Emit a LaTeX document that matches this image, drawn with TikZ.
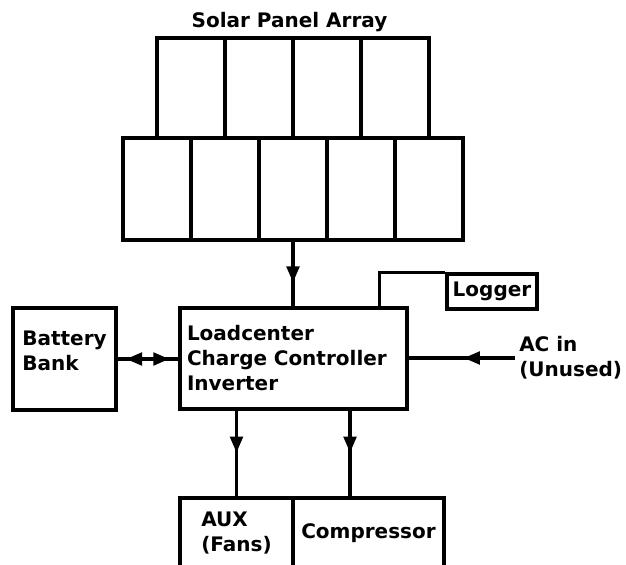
\documentclass[tikz,border=0pt]{standalone}
\usepackage{fontspec}
\setmainfont{DejaVu Sans}
\usetikzlibrary{arrows.meta,decorations.markings}
\begin{document}
\begin{tikzpicture}[
      x=0.75pt, y=-0.75pt,
      font=\fontsize{15}{18.75}\selectfont\bfseries,
      line width=2.4pt,
      box/.style={draw, inner sep=0pt},
      panel/.style={draw, inner sep=0pt, minimum width=51pt, minimum height=#1},
      mid/.style={postaction={decorate}, decoration={markings,
        mark=at position #1 with {\arrow{Triangle[length=12pt, width=9.5pt]}}}},
      duo/.style={postaction={decorate}, decoration={markings,
        mark=at position 0.14 with {\arrowreversed{Triangle[length=12pt, width=9.5pt]}},
        mark=at position 0.85 with {\arrow{Triangle[length=12pt, width=9.5pt]}}}}
    ]
      \useasboundingbox (0,0) rectangle (626,565);
      \node[anchor=base] (title) at (289.5,27) {Solar Panel Array};
      \foreach \i/\x in {1/191,2/259,3/327,4/395}
        \node[panel=75pt] (t\i) at (\x,88) {};
      \foreach \i/\x in {1/157,2/225,3/293,4/361,5/429}
        \node[panel=76.5pt] (b\i) at (\x,189) {};

      \node[box, minimum width=170.25pt, minimum height=75.75pt, text width=159.75pt, inner xsep=5.25pt, align=left] (lc) at (293.5,358.5) {Loadcenter\\Charge Controller\\Inverter};
      \node[box, minimum width=77.25pt, minimum height=76.5pt, align=left, text depth=12.8pt] (bat) at (64.5,359) {Battery\\Bank};
      \node[box, minimum width=67.5pt, minimum height=26.25pt] (log) at (492,291.5) {Logger};
      \node[anchor=west, align=left, inner sep=2pt] (acin) at (515,358) {AC in\\(Unused)};
      \node[box, minimum width=84.75pt, minimum height=52.5pt, align=left] (aux) at (236.5,533) {AUX\\(Fans)};
      \node[box, minimum width=113.25pt, minimum height=52.5pt] (comp) at (368.5,533) {Compressor};

      \draw[mid=0.63] (b3.south) -- (b3.south |- lc.north);
      \draw ([xshift=-21.75pt]lc.north east) |- (log.north west);
      \draw[duo] (bat.east) -- (bat.east -| lc.west);
      \draw[mid=0.48] (acin.west) -- (acin.west -| lc.east);
      \draw[mid=0.49] (lc.south -| aux.north) -- (aux.north);
      \draw[mid=0.49] ([xshift=42.4pt]lc.south) -- ([xshift=42.4pt]lc.south |- comp.north);
    \end{tikzpicture}
\end{document}
